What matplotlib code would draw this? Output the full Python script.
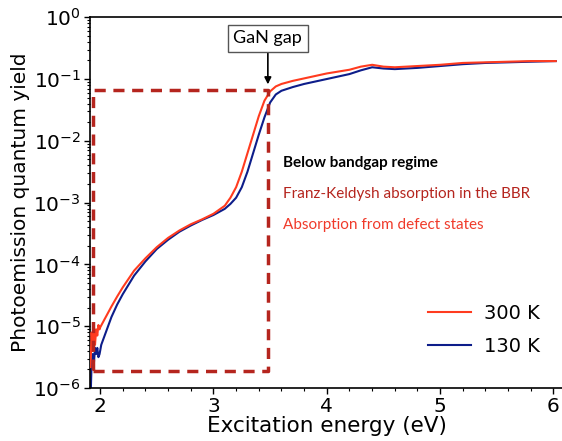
import numpy as np
import matplotlib
matplotlib.use("Agg")
import matplotlib.pyplot as plt
from matplotlib.ticker import MultipleLocator, LogLocator, FixedLocator

# --- data (log10 of yield) ---
e_300 = [1.915, 1.925, 1.935, 1.945, 1.955, 1.965, 1.975, 1.985, 1.995, 2.0, 2.05, 2.1, 2.15, 2.2,
         2.3, 2.4, 2.5, 2.6, 2.7, 2.8, 2.9, 3.0, 3.1, 3.15, 3.2, 3.25, 3.3, 3.35, 3.4, 3.45,
         3.5, 3.55, 3.6, 3.7, 3.8, 3.9, 4.0, 4.1, 4.2, 4.3, 4.4, 4.5, 4.6, 4.8, 5.0, 5.2,
         5.4, 5.6, 5.8, 6.02]
log_300 = [-5.66, -5.1, -5.4, -5.0, -5.3, -5.05, -5.15, -4.98, -5.05, -5.02, -4.85, -4.68, -4.52, -4.37,
           -4.1, -3.9, -3.72, -3.57, -3.45, -3.35, -3.27, -3.18, -3.05, -2.92, -2.75, -2.5, -2.2, -1.9, -1.6, -1.35,
           -1.2, -1.12, -1.08, -1.03, -0.99, -0.95, -0.91, -0.88, -0.85, -0.8, -0.77, -0.8, -0.81, -0.79, -0.77, -0.74,
           -0.73, -0.72, -0.71, -0.71]

e_130 = [1.912, 1.92, 1.925, 1.935, 1.945, 1.955, 1.965, 1.975, 1.985, 1.995, 2.01, 2.05, 2.1, 2.15, 2.2,
         2.3, 2.4, 2.5, 2.6, 2.7, 2.8, 2.9, 3.0, 3.1, 3.15, 3.2, 3.25, 3.3, 3.35, 3.4, 3.45,
         3.5, 3.55, 3.6, 3.7, 3.8, 3.9, 4.0, 4.1, 4.2, 4.3, 4.4, 4.5, 4.6, 4.8, 5.0, 5.2,
         5.4, 5.6, 5.8, 6.02]
log_130 = [-6.5, -5.9, -5.6, -5.45, -5.6, -5.35, -5.45, -5.35, -5.5, -5.45, -5.3, -5.1, -4.85, -4.65, -4.48,
           -4.18, -3.95, -3.75, -3.6, -3.47, -3.37, -3.28, -3.2, -3.1, -3.02, -2.92, -2.75, -2.5, -2.2, -1.9, -1.62,
           -1.38, -1.25, -1.19, -1.13, -1.08, -1.04, -1.0, -0.96, -0.92, -0.86, -0.81, -0.83, -0.84, -0.82, -0.79, -0.76,
           -0.74, -0.73, -0.72, -0.71]

box_x = [1.935, 3.48]
box_y = [1.86e-6, 0.066]
gap_energy = 3.48

series_labels = ["300 K", "130 K"]
x_ticks = [2, 3, 4, 5, 6]
y_decades = [-6, -5, -4, -3, -2, -1, 0]
notes = ["Below bandgap regime", "Franz-Keldysh absorption in the BBR", "Absorption from defect states"]

fig = plt.figure(figsize=(5.62, 4.41), dpi=100)
ax = fig.add_axes([0.160, 0.120, 0.845, 0.841])

ax.plot(e_300, 10 ** np.array(log_300), color="#ff3b1f", lw=1.5, label=series_labels[0], zorder=3)
ax.plot(e_130, 10 ** np.array(log_130), color="#0d1d8a", lw=1.5, label=series_labels[1], zorder=2)

# dashed box
bx = [box_x[0], box_x[1], box_x[1], box_x[0], box_x[0]]
by = [box_y[0], box_y[0], box_y[1], box_y[1], box_y[0]]
ax.plot(bx, by, color="#b5251e", lw=2.5, ls=(0, (3.2, 2.2)), zorder=4)

ax.set_yscale("log")
ax.set_xlim(1.91, 6.1)
ax.set_ylim(1e-6, 1)
ax.set_xticks(x_ticks)
ax.set_xticklabels([str(t) for t in x_ticks])
ax.xaxis.set_minor_locator(MultipleLocator(0.2))
ax.set_yticks([10.0 ** k for k in y_decades])
ax.set_yticklabels([r"$10^{%d}$" % k for k in y_decades])
minor_y = [m * 10.0 ** k for k in y_decades[:-1] for m in range(2, 10)]
ax.yaxis.set_minor_locator(FixedLocator(minor_y))
ax.tick_params(axis="both", which="major", labelsize=14.5, length=4, width=1, pad=2.5)
ax.tick_params(axis="both", which="minor", length=2.5, width=0.8)
ax.set_xlabel("Excitation energy (eV)", fontsize=15.5, labelpad=0)
ax.set_ylabel("Photoemission quantum yield", fontsize=14.5, labelpad=2)
for s in ax.spines.values():
    s.set_linewidth(1.2)

# GaN gap annotation
ax.annotate("GaN gap", xy=(gap_energy, 0.082), xytext=(gap_energy, 0.457),
            ha="center", va="center", fontsize=13, family="Lato",
            bbox=dict(boxstyle="square,pad=0.3", fc="white", ec="#555555", lw=1),
            arrowprops=dict(arrowstyle="-|>", color="black", lw=1.2, mutation_scale=10,
                            shrinkA=0, shrinkB=0))

fx = 0.406
ax.text(fx, 0.608, notes[0], transform=ax.transAxes, fontsize=11, fontweight="bold",
        family="Lato", color="black", va="center")
ax.text(fx, 0.522, notes[1], transform=ax.transAxes, fontsize=11,
        family="Lato", color="#b5251e", va="center")
ax.text(fx, 0.440, notes[2], transform=ax.transAxes, fontsize=11,
        family="Lato", color="#f03a2a", va="center")

ax.legend(loc="lower right", bbox_to_anchor=(0.985, 0.04), frameon=False, fontsize=14,
          handlelength=2.2, handletextpad=0.7, labelspacing=0.7)

fig.savefig("out.png", dpi=100)
